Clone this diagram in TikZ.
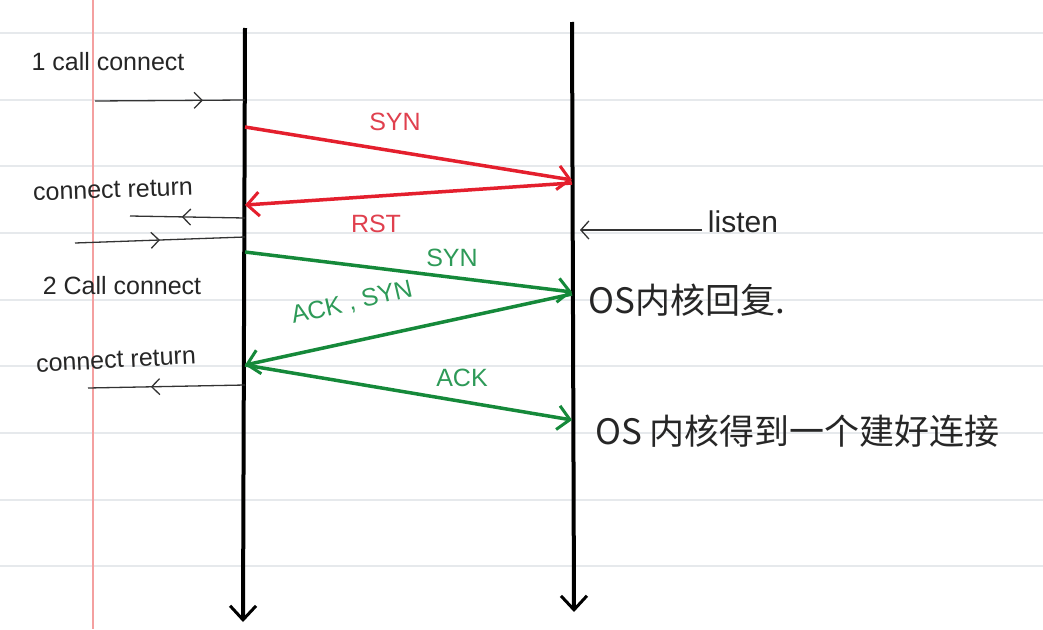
\documentclass[tikz,border=0pt]{standalone}
\usepackage{fontspec}
\setmainfont{Liberation Sans}
\newfontfamily\cjk{Noto Sans CJK SC}
\usetikzlibrary{arrows.meta,decorations.markings}
\definecolor{inkred}{HTML}{E41F2D}
\definecolor{inkgreen}{HTML}{15893A}
\definecolor{lblred}{HTML}{E0404E}
\definecolor{lblgreen}{HTML}{2E9A58}
\definecolor{ruleline}{HTML}{E6E9EC}
\definecolor{margin}{HTML}{F4A0A0}
\tikzset{
  ruled/.style={draw=ruleline, line width=1.5pt},
  lifeline/.style={draw=black, line width=4pt, -{Straight Barb[length=14pt,width=26pt,line width=3pt]}},
  redmsg/.style={draw=inkred, line width=3.5pt, -{Straight Barb[length=12pt,width=24pt,line width=3pt]}},
  greenmsg/.style={draw=inkgreen, line width=3.5pt, -{Straight Barb[length=12pt,width=24pt,line width=3pt]}},
  callarrow/.style={draw=black!80, line width=1.3pt,
    postaction={decorate},
    decoration={markings, mark=at position #1 with {\arrow[line width=1.3pt]{Straight Barb[length=8pt,width=16pt]}}}},
  note/.style={text=black!85, font=\fontsize{25}{29}\selectfont, inner sep=0pt},
  cjknote/.style={text=black!85, font=\cjk\fontsize{35}{40}\selectfont, inner sep=0pt, anchor=west},
  redlbl/.style={text=lblred, font=\fontsize{25}{29}\selectfont, inner sep=0pt},
  greenlbl/.style={text=lblgreen, font=\fontsize{25}{29}\selectfont, inner sep=0pt},
}
\begin{document}
\begin{tikzpicture}[x=1pt,y=-1pt]
\useasboundingbox (0,0) rectangle (1043,629);
\fill[white] (0,0) rectangle (1043,629);
% ruled paper
\foreach \yy in {33,100,166,233,300,366,433,500,566}
  \draw[ruled] (0,\yy) -- (1043,\yy);
\draw[margin, line width=1.2pt] (93,0) -- (93,629);

% lifelines
\coordinate (Ltop) at (245,28);
\coordinate (Lbot) at (243,622);
\coordinate (Rtop) at (572,22);
\coordinate (Rbot) at (574,612);
\draw[lifeline] (Ltop) -- (Lbot);
\draw[lifeline] (Rtop) -- (Rbot);

% event points
\coordinate (L1) at (245,100);
\coordinate (L2) at (245,127);
\coordinate (L3) at (245,205);
\coordinate (L4) at (245,218);
\coordinate (L5) at (245,237);
\coordinate (L6) at (245,252);
\coordinate (L7) at (245,365);
\coordinate (L8) at (245,385);
\coordinate (R1) at (572,180);
\coordinate (R2) at (572,183);
\coordinate (R3) at (572,292);
\coordinate (R4) at (572,294);
\coordinate (R5) at (572,420);
\coordinate (R6) at (580,230);

% free ends of the call arrows
\coordinate (c1) at (95,101);
\coordinate (c2) at (130,216);
\coordinate (c3) at (75,243);
\coordinate (c4) at (88,388);
\coordinate (c5) at (702,230);

% call / return arrows (black, thin)
\draw[callarrow=0.72] (c1) -- (L1);
\draw[callarrow=0.55] (L4) -- (c2);
\draw[callarrow=0.5] (c3) -- (L5);
\draw[callarrow=0.6] (L8) -- (c4);
\draw[black!80, line width=1.3pt, -{Straight Barb[length=8pt,width=18pt,line width=1.3pt]}] (c5) -- (R6);

% messages
\draw[redmsg] (L2) -- (R1);
\draw[redmsg] (R2) -- (L3);
\draw[greenmsg] (L6) -- (R3);
\draw[greenmsg] (R4) -- (L7);
\draw[greenmsg] (L7) -- (R5);

% left notes
\node[note] (n1) at (108,62) {1 call connect};
\node[note, rotate=2] (n2) at (113,190) {connect return};
\node[note] (n3) at (122,286) {2 Call connect};
\node[note, rotate=3] (n4) at (116,360) {connect return};

% message labels
\node[redlbl] (s1) at (395,122) {SYN};
\node[redlbl] (s2) at (376,224) {RST};
\node[greenlbl] (s3) at (452,258) {SYN};
\node[greenlbl, rotate=13] (s4) at (352,303) {ACK , SYN};
\node[greenlbl] (s5) at (462,378) {ACK};

% right notes
\node[note, font=\fontsize{30}{34}\selectfont] (n5) at (743,222) {listen};
\node[cjknote] (n6) at (588,300) {OS内核回复.};
\node[cjknote] (n7) at (595,431) {OS 内核得到一个建好连接};
\end{tikzpicture}
\end{document}
